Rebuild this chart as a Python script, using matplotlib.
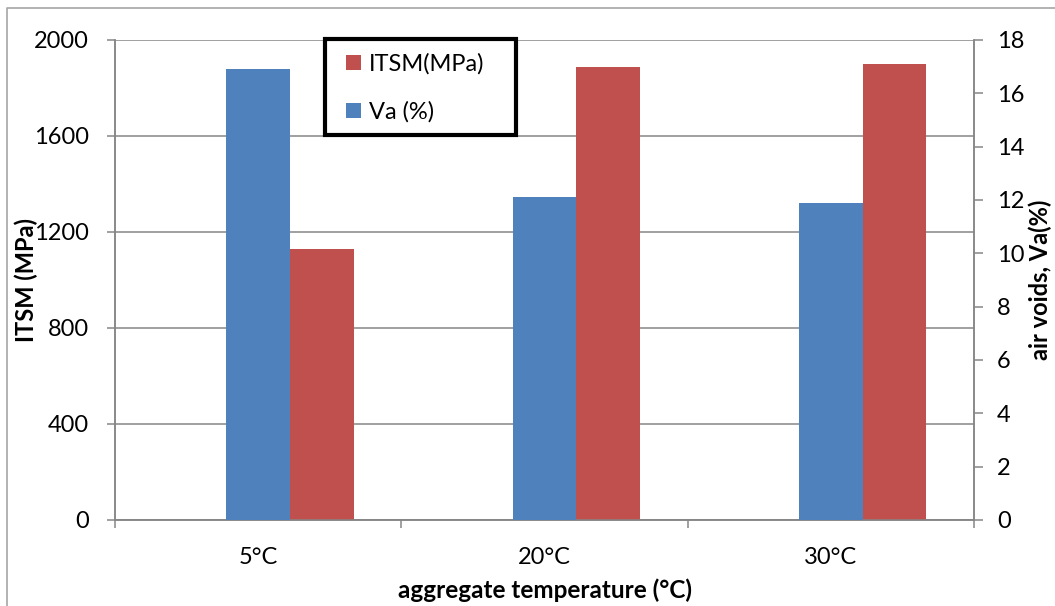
import matplotlib
matplotlib.use("Agg")
import matplotlib.pyplot as plt
import numpy as np
from matplotlib.patches import Rectangle
from matplotlib.lines import Line2D

categories = ["5°C", "20°C", "30°C"]
itsm = [1129, 1886, 1901]
va = [16.9, 12.1, 11.9]
left_ticks = [0, 400, 800, 1200, 1600, 2000]
right_ticks = [0, 2, 4, 6, 8, 10, 12, 14, 16, 18]

plt.rcParams['font.family'] = ['Lato', 'DejaVu Sans']
FS = 17
W, H = 1055, 606
fig = plt.figure(figsize=(W/100, H/100), dpi=100)

L, R, T, B = 115, 974, 40, 520
ax = fig.add_axes([L/W, 1 - B/H, (R-L)/W, (B-T)/H])
ax2 = ax.twinx()

blue = "#4F81BD"
red = "#C0504D"
grey = "#868686"
x = np.arange(len(categories))
bw = 0.222

ax.bar(x + bw, itsm, width=bw, color=red, label="ITSM(MPa)", zorder=3)
ax2.bar(x, va, width=bw, color=blue, label="Va (%)", zorder=3)

ax.set_xlim(-0.5, 2.5)
ax.set_ylim(0, 2000)
ax2.set_ylim(0, 18)
ax.set_yticks(left_ticks)
ax2.set_yticks(right_ticks)
ax.set_xticks(x)
ax.set_xticklabels(categories)
ax.set_xticks(np.arange(-0.5, 3.0, 1.0), minor=True)

ax.set_axisbelow(True)
ax.yaxis.grid(True, color=grey, linewidth=1.1)
for a in (ax, ax2):
    for s in a.spines.values():
        s.set_color(grey)
        s.set_linewidth(1.1)
    a.spines['top'].set_visible(False)

ax.tick_params(axis='x', which='major', length=0, pad=27*0.72, labelsize=FS)
ax.tick_params(axis='x', which='minor', length=8*0.72, width=1.1, color=grey, direction='out')
ax.tick_params(axis='y', length=8*0.72, width=1.1, color=grey, pad=18*0.72, labelsize=FS)
ax2.tick_params(axis='y', length=9*0.72, width=1.1, color=grey, pad=14*0.72, labelsize=FS)

ax.set_ylabel("ITSM (MPa)", fontsize=FS, fontweight='bold')
ax.yaxis.set_label_coords((26 - L)/(R-L), 0.5)
ax2.set_ylabel("air voids, Va(%)", fontsize=FS, fontweight='bold')
ax2.yaxis.set_label_coords((1040 - L)/(R-L), 0.5)
ax.set_xlabel("aggregate temperature (°C)", fontsize=FS + 0.5, fontweight='bold')
ax.xaxis.set_label_coords(0.5, -(590 - B)/(B-T))
ax.xaxis.label.set_va('center')
ax.yaxis.label.set_va('center')
ax2.yaxis.label.set_va('center')

# legend frame
lx0, lx1, ly0, ly1 = 325, 516, 39, 135
frame = Rectangle((lx0/W, 1 - ly1/H), (lx1-lx0)/W, (ly1-ly0)/H,
                  transform=fig.transFigure, facecolor='white',
                  edgecolor='black', linewidth=3, zorder=10, clip_on=False)
ax2.add_artist(frame)
h1, l1 = ax.get_legend_handles_labels()
h2, l2 = ax2.get_legend_handles_labels()
leg = ax2.legend(h1 + h2, l1 + l2, loc='upper left',
                 bbox_to_anchor=(346/W, 1 - 53/H), bbox_transform=fig.transFigure,
                 frameon=False, fontsize=FS, handlelength=0.62, handleheight=0.6,
                 handletextpad=0.35, labelspacing=1.12, borderpad=0.0,
                 borderaxespad=0.0)
leg.set_zorder(11)

# outer chart-area border
fig.lines.append(Line2D([7/W, 7/W, 1.0], [0.0, 1 - 8/H, 1 - 8/H],
                        transform=fig.transFigure, color="#A6A6A6", linewidth=1.2))

fig.savefig("out.png", dpi=100)
